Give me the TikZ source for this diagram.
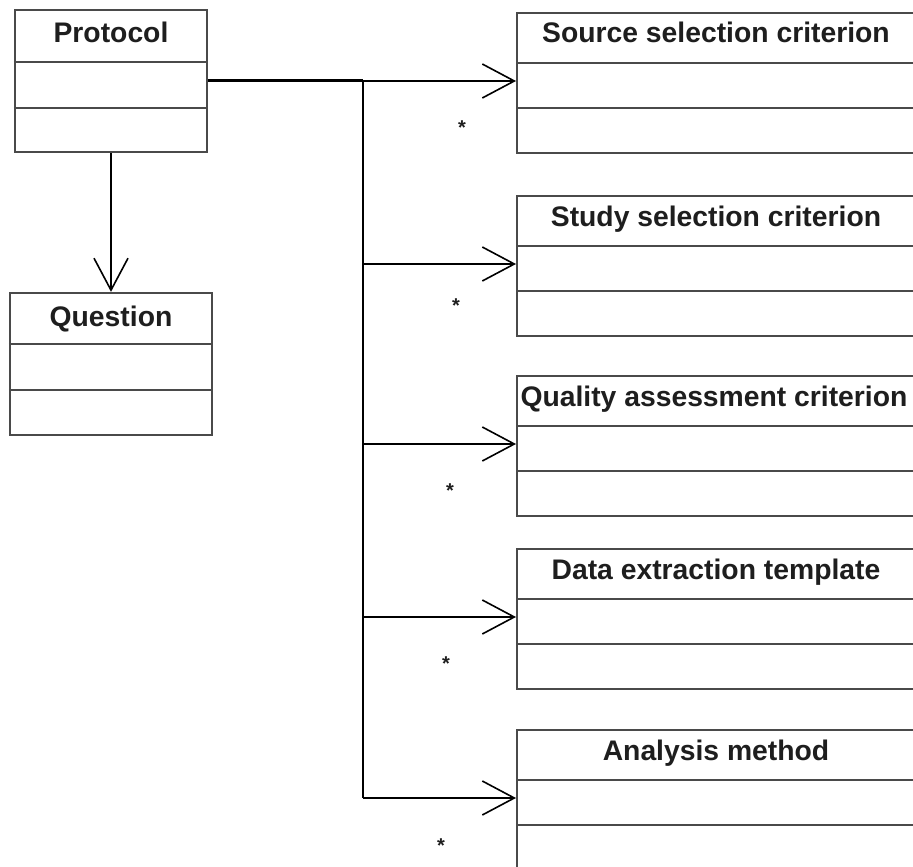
\documentclass[tikz,border=0pt]{standalone}
\usepackage{fontspec}
\setmainfont{Liberation Sans}
\usetikzlibrary{arrows.meta}
\definecolor{boxline}{HTML}{4A4A4A}
\definecolor{ink}{HTML}{1E1E1E}
\tikzset{
  umlclass/.style={draw=boxline, line width=2.2pt, fill=white, inner sep=0pt,
    minimum width=#1, minimum height=140pt},
  umltitle/.style={font=\bfseries\fontsize{28.3}{30}\selectfont, text=ink,
    inner sep=0pt, anchor=base},
  link/.style={draw=black, line width=1.6pt},
  trunk/.style={draw=black, line width=3pt},
  openarrow/.style={link, -{Straight Barb[length=32pt, width=34pt, line width=1.6pt]}},
  mult/.style={font=\bfseries\fontsize{20}{20}\selectfont, text=ink, inner sep=0pt}
}
\begin{document}
\begin{tikzpicture}[x=1pt, y=-1pt]
  \useasboundingbox (0,0) rectangle (913,867);
  \clip (0,0) rectangle (913,867);

  % left-hand classes
  \node[umlclass=192pt, minimum height=142pt] (proto) at (111,81) {};
  \node[umlclass=202pt, minimum height=142pt] (quest) at (111,364) {};

  % right-hand classes (running off the right edge)
  \foreach \name/\top in {src/12, study/195, qual/375, data/548, anal/729}{
    \node[umlclass=404pt, anchor=north west] (\name) at (516,\top) {};
    \draw[draw=boxline, line width=2.2pt]
      ([yshift=-51pt]\name.north west) -- ([yshift=-51pt]\name.north east)
      ([yshift=-96pt]\name.north west) -- ([yshift=-96pt]\name.north east);
    \coordinate (\name-in) at ([yshift=-69pt]\name.north west);
  }

  % compartments of the left-hand classes
  \draw[draw=boxline, line width=2.2pt]
    ([yshift=-53pt]proto.north west) -- ([yshift=-53pt]proto.north east)
    ([yshift=-99pt]proto.north west) -- ([yshift=-99pt]proto.north east)
    ([yshift=-52pt]quest.north west) -- ([yshift=-52pt]quest.north east)
    ([yshift=-98pt]quest.north west) -- ([yshift=-98pt]quest.north east);

  % class names (placed on their baselines)
  \node[umltitle] (t-proto) at (111,43)  {Protocol};
  \node[umltitle] (t-quest) at (111,326) {Question};
  \node[umltitle] (t-src)   at (716,43)  {Source selection criterion};
  \node[umltitle] (t-study) at (716,226) {Study selection criterion};
  \node[umltitle] (t-qual)  at (714,406) {Quality assessment criterion};
  \node[umltitle] (t-data)  at (716,579) {Data extraction template};
  \node[umltitle] (t-anal)  at (716,760) {Analysis method};

  % association from Protocol to Question
  \draw[openarrow] (proto.south) -- (quest.north);

  % shared trunk from Protocol to the criteria classes
  \coordinate (b1) at (363,81);
  \foreach \name in {study, qual, data, anal}{
    \coordinate (b-\name) at (b1 |- \name-in);
  }
  \draw[trunk] (proto.east |- b1) -- (b1);
  \draw[link] (b1) -- (b-anal);
  \draw[openarrow] (b1) -- (src-in);
  \foreach \name in {study, qual, data, anal}{
    \draw[openarrow] (b-\name) -- (\name-in);
  }

  % multiplicities
  \node[mult] (m-src)   at (462,128) {*};
  \node[mult] (m-study) at (456,306) {*};
  \node[mult] (m-qual)  at (450,491) {*};
  \node[mult] (m-data)  at (446,664) {*};
  \node[mult] (m-anal)  at (441,846) {*};
\end{tikzpicture}
\end{document}
